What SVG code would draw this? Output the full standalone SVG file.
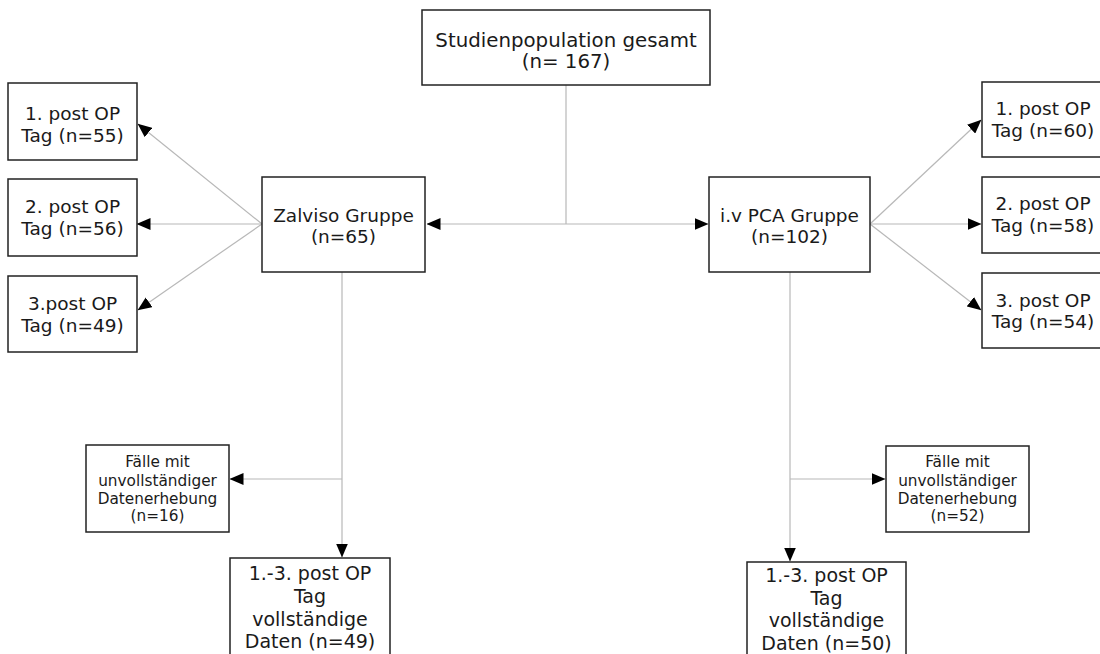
<svg xmlns="http://www.w3.org/2000/svg" width="1100" height="654" viewBox="0 0 1100 654">
<defs>
<marker id="ah" markerUnits="userSpaceOnUse" markerWidth="14" markerHeight="12" viewBox="0 0 14 12" refX="13.5" refY="6" orient="auto-start-reverse">
<path d="M0,0 L14,6 L0,12 z" fill="#000"/>
</marker>
</defs>
<style>
rect.box{fill:#fff;stroke:#222;stroke-width:1.5}
text{font-family:"DejaVu Sans",Verdana,sans-serif;fill:#1a1a1a;text-anchor:middle}
.t20{font-size:19.8px}
.t18{font-size:18.5px}
.t15{font-size:15.3px}
.t19{font-size:19px}
#connectors line{stroke:#b8b8b8;stroke-width:1.2;fill:none}
#connectors line.a{marker-end:url(#ah)}
</style>
<rect width="1100" height="654" fill="#fff"/>
<g id="connectors">
<line x1="566" y1="85" x2="566" y2="224"/>
<line x1="427" y1="224" x2="708" y2="224" style="marker-start:url(#ah);marker-end:url(#ah)"/>
<line class="a" x1="262" y1="224" x2="138" y2="124"/>
<line class="a" x1="262" y1="224" x2="137" y2="224"/>
<line class="a" x1="262" y1="224" x2="138" y2="310"/>
<line class="a" x1="870" y1="224" x2="981" y2="120"/>
<line class="a" x1="870" y1="224" x2="981" y2="224"/>
<line class="a" x1="870" y1="224" x2="981" y2="310"/>
<line class="a" x1="342" y1="272" x2="342" y2="557"/>
<line class="a" x1="342" y1="479" x2="230" y2="479"/>
<line class="a" x1="790" y1="272" x2="790" y2="561"/>
<line class="a" x1="790" y1="479" x2="885" y2="479"/>
</g>
<g id="top">
<rect class="box" x="422" y="10" width="288" height="75"/>
<text class="t20" x="566" y="47">Studienpopulation gesamt</text>
<text class="t20" x="566" y="68">(n= 167)</text>
</g>
<g id="zalviso">
<rect class="box" x="262" y="177" width="163" height="95"/>
<text class="t18" x="343.5" y="222">Zalviso Gruppe</text>
<text class="t18" x="343.5" y="243">(n=65)</text>
</g>
<g id="pca">
<rect class="box" x="709" y="177" width="161" height="95"/>
<text class="t18" x="789.5" y="222">i.v PCA Gruppe</text>
<text class="t18" x="789.5" y="243">(n=102)</text>
</g>
<g id="z1">
<rect class="box" x="8" y="83" width="129" height="77"/>
<text class="t18" x="72.5" y="120">1. post OP</text>
<text class="t18" x="72.5" y="142">Tag (n=55)</text>
</g>
<g id="z2">
<rect class="box" x="8" y="179" width="129" height="77"/>
<text class="t18" x="72.5" y="213">2. post OP</text>
<text class="t18" x="72.5" y="235">Tag (n=56)</text>
</g>
<g id="z3">
<rect class="box" x="8" y="276" width="129" height="76"/>
<text class="t18" x="72.5" y="310">3.post OP</text>
<text class="t18" x="72.5" y="332">Tag (n=49)</text>
</g>
<g id="p1">
<rect class="box" x="982" y="82" width="124" height="75"/>
<text class="t18" x="1043" y="115">1. post OP</text>
<text class="t18" x="1043" y="137">Tag (n=60)</text>
</g>
<g id="p2">
<rect class="box" x="982" y="177" width="124" height="76"/>
<text class="t18" x="1043" y="210">2. post OP</text>
<text class="t18" x="1043" y="232">Tag (n=58)</text>
</g>
<g id="p3">
<rect class="box" x="982" y="273" width="124" height="75"/>
<text class="t18" x="1043" y="307">3. post OP</text>
<text class="t18" x="1043" y="328">Tag (n=54)</text>
</g>
<g id="zinc">
<rect class="box" x="86" y="445" width="143" height="87"/>
<text class="t15" x="157.5" y="467">Fälle mit</text>
<text class="t15" x="157.5" y="485.5">unvollständiger</text>
<text class="t15" x="157.5" y="504">Datenerhebung</text>
<text class="t15" x="157.5" y="521">(n=16)</text>
</g>
<g id="pinc">
<rect class="box" x="886" y="446" width="143" height="86"/>
<text class="t15" x="957.5" y="467">Fälle mit</text>
<text class="t15" x="957.5" y="485.5">unvollständiger</text>
<text class="t15" x="957.5" y="504">Datenerhebung</text>
<text class="t15" x="957.5" y="521">(n=52)</text>
</g>
<g id="zfull">
<rect class="box" x="230" y="558" width="160" height="110"/>
<text class="t19" x="310" y="580">1.-3. post OP</text>
<text class="t19" x="310" y="603">Tag</text>
<text class="t19" x="310" y="625.5">vollständige</text>
<text class="t19" x="310" y="648">Daten (n=49)</text>
</g>
<g id="pfull">
<rect class="box" x="747" y="562" width="159" height="110"/>
<text class="t19" x="826.5" y="582">1.-3. post OP</text>
<text class="t19" x="826.5" y="605">Tag</text>
<text class="t19" x="826.5" y="627">vollständige</text>
<text class="t19" x="826.5" y="650">Daten (n=50)</text>
</g>
</svg>
